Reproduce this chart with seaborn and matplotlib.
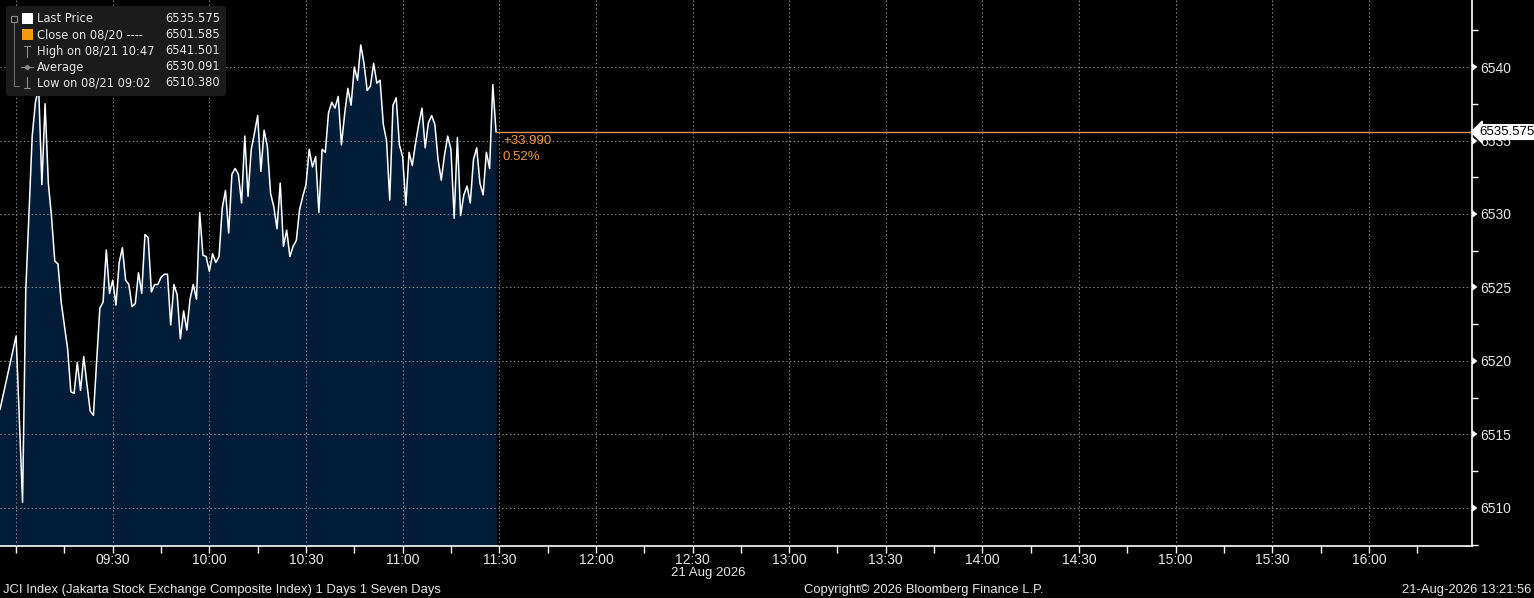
import matplotlib
matplotlib.use("Agg")
import matplotlib.pyplot as plt
import matplotlib.dates as mdates
import matplotlib.markers as mmarkers
from matplotlib.patches import FancyBboxPatch, Rectangle
from matplotlib.ticker import FixedLocator, FuncFormatter, MultipleLocator
import seaborn as sns
import pandas as pd

# JCI intraday, 1-minute prices
pre_open_time = "2026-08-21 08:55"
pre_open_price = 6516.7
session_start = "2026-08-21 09:00"
prices = [
    6521.7, 6516.0, 6510.38, 6524.8, 6530.0, 6535.3, 6537.6, 6538.6, 6532.0, 6537.5,
    6532.1, 6529.8, 6526.8, 6526.6, 6524.0, 6522.4, 6520.8, 6517.9, 6517.8, 6519.9,
    6518.0, 6520.3, 6518.4, 6516.6, 6516.3, 6520.0, 6523.6, 6524.0, 6527.55, 6524.6,
    6525.5, 6523.8, 6526.7, 6527.7, 6525.5, 6525.2, 6523.7, 6523.9, 6526.0, 6524.6,
    6528.6, 6528.4, 6524.7, 6525.2, 6525.2, 6525.7, 6525.9, 6525.9, 6522.45, 6525.2,
    6524.5, 6521.5, 6523.4, 6522.1, 6524.2, 6525.2, 6524.2, 6530.1, 6527.2, 6527.1,
    6526.1, 6527.3, 6526.7, 6527.1, 6530.4, 6531.6, 6528.7, 6532.7, 6533.1, 6532.7,
    6530.75, 6535.3, 6531.2, 6534.4, 6535.5, 6536.7, 6532.9, 6535.7, 6534.6, 6531.4,
    6530.5, 6529.0, 6532.1, 6527.8, 6528.9, 6527.1, 6527.8, 6528.2, 6530.3, 6531.2,
    6532.0, 6534.4, 6533.2, 6533.9, 6530.1, 6534.4, 6534.2, 6536.9, 6537.6, 6537.2,
    6538.0, 6534.7, 6536.8, 6538.55, 6537.4, 6540.0, 6539.1, 6541.501, 6540.25, 6538.4,
    6538.7, 6540.25, 6538.9, 6539.1, 6536.1, 6535.0, 6530.95, 6537.4, 6537.9, 6534.7,
    6533.9, 6530.6, 6534.2, 6533.3, 6534.8, 6536.1, 6537.2, 6534.5, 6536.2, 6536.7,
    6536.1, 6533.7, 6532.3, 6534.0, 6535.3, 6534.4, 6529.7, 6535.2, 6529.9, 6531.3,
    6531.9, 6530.75, 6533.7, 6534.5, 6532.1, 6531.3, 6534.2, 6533.1, 6538.8, 6535.575,
]

legend_labels = ["Last Price", "Close on 08/20 ----", "High on 08/21 10:47", "Average", "Low on 08/21 09:02"]
legend_values = ["6535.575", "6501.585", "6541.501", "6530.091", "6510.380"]
last_price = 6535.575
change_text = "+33.990"
change_pct_text = "0.52%"
y_ticks = [6510, 6515, 6520, 6525, 6530, 6535, 6540]

footer_left = "JCI Index (Jakarta Stock Exchange Composite Index) 1 Days 1 Seven Days"
footer_mid = "Copyright\u00a9 2026 Bloomberg Finance L.P."
footer_right = "21-Aug-2026 13:21:56"
date_label = "21 Aug 2026"

times = [pd.Timestamp(pre_open_time)] + list(pd.date_range(session_start, periods=len(prices), freq="min"))
df = pd.DataFrame({"time": times, "price": [pre_open_price] + prices})

sns.set_theme(style="dark")
plt.rcParams["font.family"] = ["Liberation Sans", "DejaVu Sans"]

W, H = 1534, 598
fig = plt.figure(figsize=(W / 100, H / 100), dpi=100, facecolor="black")
ax = fig.add_axes([0, 1 - 546 / H, 1472 / W, 546 / H])
ax.set_facecolor("black")

fill_col = "#031c38"
txt_col = "#e6e6e6"
orange = "#f29a38"

ax.fill_between(df["time"], df["price"], 6500, color=fill_col, zorder=1)
sns.lineplot(data=df, x="time", y="price", color="white", linewidth=1.1, ax=ax, zorder=3)
ax.hlines(last_price, df["time"].iloc[-1], pd.Timestamp("2026-08-21 16:32"),
          color="#e8905a", linewidth=1.0, zorder=3)

ax.set_xlim(pd.Timestamp("2026-08-21 08:55"), pd.Timestamp("2026-08-21 16:32"))
ax.set_ylim(6507.41, 6544.56)
ax.set_xlabel("")
ax.set_ylabel("")

# x axis: grid every 30 min, ticks every 15 min
major_x = list(pd.date_range("2026-08-21 09:00", "2026-08-21 16:00", freq="30min"))
minor_x = list(pd.date_range("2026-08-21 09:15", "2026-08-21 16:15", freq="30min"))
ax.xaxis.set_major_locator(FixedLocator(mdates.date2num(major_x)))
ax.xaxis.set_minor_locator(FixedLocator(mdates.date2num(minor_x)))
ax.xaxis.set_major_formatter(FuncFormatter(
    lambda v, p: "" if mdates.num2date(v).strftime("%H:%M") == "09:00" else mdates.num2date(v).strftime("%H:%M")))

# y axis on the right
ax.yaxis.tick_right()
ax.yaxis.set_major_locator(FixedLocator(y_ticks))
ax.yaxis.set_minor_locator(MultipleLocator(2.5))
ax.yaxis.set_major_formatter(FuncFormatter(lambda v, p: f"{v:.0f}"))

ax.grid(True, which="major", color="#8a8a8a", linestyle=(0, (1.5, 2.5)), linewidth=0.7, zorder=2)
ax.set_axisbelow(False)

for s in ["top", "left"]:
    ax.spines[s].set_visible(False)
for s in ["bottom", "right"]:
    ax.spines[s].set_visible(True)
    ax.spines[s].set_color("white")
    ax.spines[s].set_linewidth(1.2)

ax.tick_params(axis="x", which="both", direction="out", colors="white", length=5, width=1,
               labelsize=10, labelcolor=txt_col, pad=0, bottom=True)
ax.tick_params(axis="y", which="major", direction="out", colors="white", length=0,
               labelsize=10, labelcolor=txt_col, pad=6, right=True, left=False)
ax.tick_params(axis="y", which="minor", direction="out", colors="white", length=4, width=1,
               right=True, left=False)
for t in ax.yaxis.get_major_ticks():
    t.tick2line.set_marker(mmarkers.CARETRIGHTBASE)
    t.tick2line.set_markersize(4)
    t.tick2line.set_color("white")

# last price tag on the right axis
ax.annotate(f"{last_price:.3f}", xy=(1.0, last_price), xycoords=("axes fraction", "data"),
            xytext=(5, 0), textcoords="offset points", va="center", ha="left",
            fontsize=9.5, color="black", zorder=10, annotation_clip=False,
            bbox=dict(boxstyle="larrow,pad=0.1", fc="white", ec="white"))

# change labels
ax.annotate(change_text, xy=(df["time"].iloc[-1], last_price), xytext=(5, -6.5),
            textcoords="offset points", color=orange, fontsize=9.5, va="center", ha="left")
ax.annotate(change_pct_text, xy=(df["time"].iloc[-1], last_price), xytext=(5, -18),
            textcoords="offset points", color=orange, fontsize=9.5, va="center", ha="left")


def fx(x):
    return x / W


def fy(y):
    return 1 - y / H


leg_font = ["DejaVu Sans"]

# legend box
fig.patches.append(FancyBboxPatch((fx(6), fy(96)), fx(220), 90 / H,
                                  boxstyle="round,pad=0,rounding_size=0.003",
                                  transform=fig.transFigure, fc="#1b1b1b", ec="none", zorder=5))
row_y = [19, 35, 51, 67, 83]
for lab, val, y in zip(legend_labels, legend_values, row_y):
    fig.text(fx(37), fy(y), lab, color=txt_col, fontsize=8.3, va="center", ha="left",
             family=leg_font, zorder=6)
    fig.text(fx(220), fy(y), val, color=txt_col, fontsize=8.3, va="center", ha="right",
             family=leg_font, zorder=6)
fig.patches.append(Rectangle((fx(22), fy(24)), 11 / W, 11 / H, transform=fig.transFigure,
                             fc="white", ec="none", zorder=6))
fig.patches.append(Rectangle((fx(22), fy(40)), 11 / W, 11 / H, transform=fig.transFigure,
                             fc="#f39c12", ec="none", zorder=6))
fig.add_artist(plt.Line2D([fx(14), fx(14)], [fy(23), fy(86)], transform=fig.transFigure,
                          color="#6a6a6a", linewidth=0.8, zorder=6))
fig.add_artist(plt.Line2D([fx(14), fx(19)], [fy(86), fy(86)], transform=fig.transFigure,
                          color="#6a6a6a", linewidth=0.8, zorder=6))
fig.patches.append(Rectangle((fx(11), fy(22)), 6 / W, 6 / H, transform=fig.transFigure,
                             fc="#1b1b1b", ec="#8a8a8a", linewidth=0.8, zorder=7))
fig.add_artist(plt.Line2D([fx(21), fx(33)], [fy(67), fy(67)], transform=fig.transFigure,
                          color="#8a8a8a", linewidth=0.8, zorder=6))
fig.add_artist(plt.Line2D([fx(27)], [fy(67)], transform=fig.transFigure,
                          color="#8a8a8a", marker="o", markersize=2.5, zorder=6))
fig.add_artist(plt.Line2D([fx(27), fx(27)], [fy(46), fy(57)], transform=fig.transFigure,
                          color="#8a8a8a", linewidth=0.8, zorder=6))
fig.add_artist(plt.Line2D([fx(24), fx(30)], [fy(46), fy(46)], transform=fig.transFigure,
                          color="#8a8a8a", linewidth=0.8, zorder=6))
fig.add_artist(plt.Line2D([fx(27), fx(27)], [fy(77), fy(88)], transform=fig.transFigure,
                          color="#8a8a8a", linewidth=0.8, zorder=6))
fig.add_artist(plt.Line2D([fx(24), fx(30)], [fy(88), fy(88)], transform=fig.transFigure,
                          color="#8a8a8a", linewidth=0.8, zorder=6))

# date under the axis and footer
fig.text(fx(708), fy(573), date_label, color=txt_col, fontsize=9.5, ha="center", va="center")
fig.text(fx(3), fy(590), footer_left, color=txt_col, fontsize=9.4, ha="left", va="center")
fig.text(fx(924), fy(590), footer_mid, color=txt_col, fontsize=9.4, ha="center", va="center")
fig.text(fx(1531), fy(590), footer_right, color=txt_col, fontsize=9.4, ha="right", va="center")

fig.savefig("out.png", dpi=100, facecolor="black")
